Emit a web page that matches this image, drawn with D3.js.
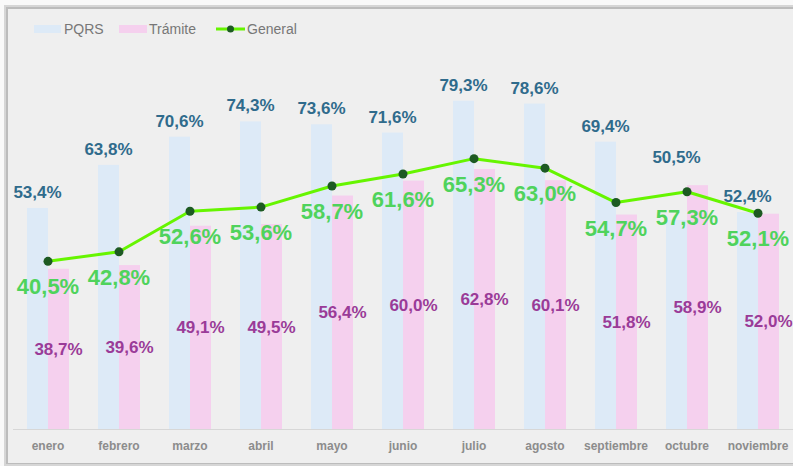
<!DOCTYPE html>
<html>
<head>
<meta charset="utf-8" />
<title></title>
<style>
html, body {
    margin: 0;
    padding: 0;
    background: #f9f9f9;
}
svg { display: block; }
</style>
</head>
<body>
<div id="chart"></div>
<script src="https://cdnjs.cloudflare.com/ajax/libs/d3/7.8.5/d3.min.js"></script>
<script>
var months = ["enero", "febrero", "marzo", "abril", "mayo", "junio", "julio", "agosto", "septiembre", "octubre", "noviembre"]
var pqrs = [53.4, 63.8, 70.6, 74.3, 73.6, 71.6, 79.3, 78.6, 69.4, 50.5, 52.4]
var tramite = [38.7, 39.6, 49.1, 49.5, 56.4, 60.0, 62.8, 60.1, 51.8, 58.9, 52.0]
var general = [40.5, 42.8, 52.6, 53.6, 58.7, 61.6, 65.3, 63.0, 54.7, 57.3, 52.1]
var seriesNames = ["PQRS", "Trámite", "General"]

var W = 793, H = 466
var font = "'Liberation Sans', Arial, sans-serif"
var fmt = function(v) { return d3.format(".1f")(v).replace(".", ",") + "%" }

var svg = d3.select("#chart").append("svg")
    .attr("width", W)
    .attr("height", H)

// marco con sombra
svg.append("rect").attr("x", 4).attr("y", 5).attr("width", W).attr("height", 461)
    .attr("fill", "#d6d6d6")
svg.append("rect").attr("x", 6).attr("y", 7).attr("width", W).attr("height", 457)
    .attr("fill", "#bcbcbc")
svg.append("rect").attr("x", 8).attr("y", 9).attr("width", W).attr("height", 454)
    .attr("fill", "#efefef")

var x = d3.scaleBand().domain(months).range([12.5, 793.5]).padding(0)
var x1 = d3.scaleBand().domain(["PQRS", "Trámite"]).range([0, x.bandwidth()]).paddingInner(0).paddingOuter(0.69)
var y = d3.scaleLinear().domain([0, 100]).range([429, 15])

var rows = months.map(function(m, i) {
    return {month: m, pqrs: pqrs[i], tramite: tramite[i], general: general[i]}
})

// barras
var g = svg.append("g")
g.selectAll("rect.pqrs").data(rows).enter().append("rect")
    .attr("x", function(d) { return x(d.month) + x1("PQRS") })
    .attr("y", function(d) { return y(d.pqrs) })
    .attr("width", x1.bandwidth())
    .attr("height", function(d) { return y(0) - y(d.pqrs) })
    .attr("fill", "#ddeaf7")
g.selectAll("rect.tram").data(rows).enter().append("rect")
    .attr("x", function(d) { return x(d.month) + x1("Trámite") })
    .attr("y", function(d) { return y(d.tramite) })
    .attr("width", x1.bandwidth())
    .attr("height", function(d) { return y(0) - y(d.tramite) })
    .attr("fill", "#f5d0ee")

// eje x
var axis = svg.append("g").attr("transform", "translate(0," + y(0) + ")")
    .call(d3.axisBottom(x).tickSize(0).tickPadding(12))
axis.select(".domain").attr("stroke", "#d7d7d7").attr("d", "M13,0.5H793")
axis.selectAll("text")
    .attr("font-family", font)
    .attr("font-size", 12)
    .attr("font-weight", "bold")
    .attr("fill", "#8c8c8c")

// línea General
var line = d3.line()
    .x(function(d) { return x(d.month) + x.bandwidth() / 2 })
    .y(function(d) { return y(d.general) })
svg.append("path").datum(rows)
    .attr("d", line)
    .attr("fill", "none")
    .attr("stroke", "#66f500")
    .attr("stroke-width", 3)
    .attr("stroke-linejoin", "round")
svg.selectAll("circle.pt").data(rows).enter().append("circle")
    .attr("cx", function(d) { return x(d.month) + x.bandwidth() / 2 })
    .attr("cy", function(d) { return y(d.general) })
    .attr("r", 4.5)
    .attr("fill", "#1d5a22")

// etiquetas
svg.selectAll("text.lp").data(rows).enter().append("text")
    .attr("x", function(d) { return x(d.month) + x1("PQRS") + x1.bandwidth() / 2 })
    .attr("y", function(d) {
        // si la barra de Trámite es más alta, la etiqueta sube por encima de ella
        return d.tramite > d.pqrs ? y(d.tramite) - 22 : y(d.pqrs) - 10
    })
    .attr("text-anchor", "middle")
    .attr("font-family", font).attr("font-size", 17).attr("font-weight", "bold")
    .attr("fill", "#2f6b8c")
    .text(function(d) { return fmt(d.pqrs) })
svg.selectAll("text.lt").data(rows).enter().append("text")
    .attr("x", function(d) { return x(d.month) + x1("Trámite") + x1.bandwidth() / 2 })
    .attr("y", function(d) { return (y(d.tramite) + y(0)) / 2 + 6 })
    .attr("text-anchor", "middle")
    .attr("font-family", font).attr("font-size", 17).attr("font-weight", "bold")
    .attr("fill", "#9a3b98")
    .text(function(d) { return fmt(d.tramite) })
svg.selectAll("text.lg").data(rows).enter().append("text")
    .attr("x", function(d) { return x(d.month) + x.bandwidth() / 2 })
    .attr("y", function(d) { return y(d.general) + 33 })
    .attr("text-anchor", "middle")
    .attr("font-family", font).attr("font-size", 22).attr("font-weight", "bold")
    .attr("fill", "#4fd35c")
    .text(function(d) { return fmt(d.general) })

// leyenda
var legend = svg.append("g").attr("font-family", font).attr("font-size", 14).attr("fill", "#777")
var lx = [34, 119, 216]
legend.append("rect").attr("x", lx[0]).attr("y", 25).attr("width", 27).attr("height", 8).attr("fill", "#ddeaf7")
legend.append("rect").attr("x", lx[1]).attr("y", 25).attr("width", 28).attr("height", 8).attr("fill", "#f5d0ee")
legend.append("line").attr("x1", lx[2]).attr("x2", lx[2] + 29).attr("y1", 29).attr("y2", 29)
    .attr("stroke", "#66f500").attr("stroke-width", 3)
legend.append("circle").attr("cx", lx[2] + 14.5).attr("cy", 29).attr("r", 3.5).attr("fill", "#1d5a22")
legend.selectAll("text").data(seriesNames).enter().append("text")
    .attr("x", function(d, i) { return lx[i] + (i == 2 ? 31 : 30) })
    .attr("y", 34)
    .text(function(d) { return d })
</script>
</body>
</html>
